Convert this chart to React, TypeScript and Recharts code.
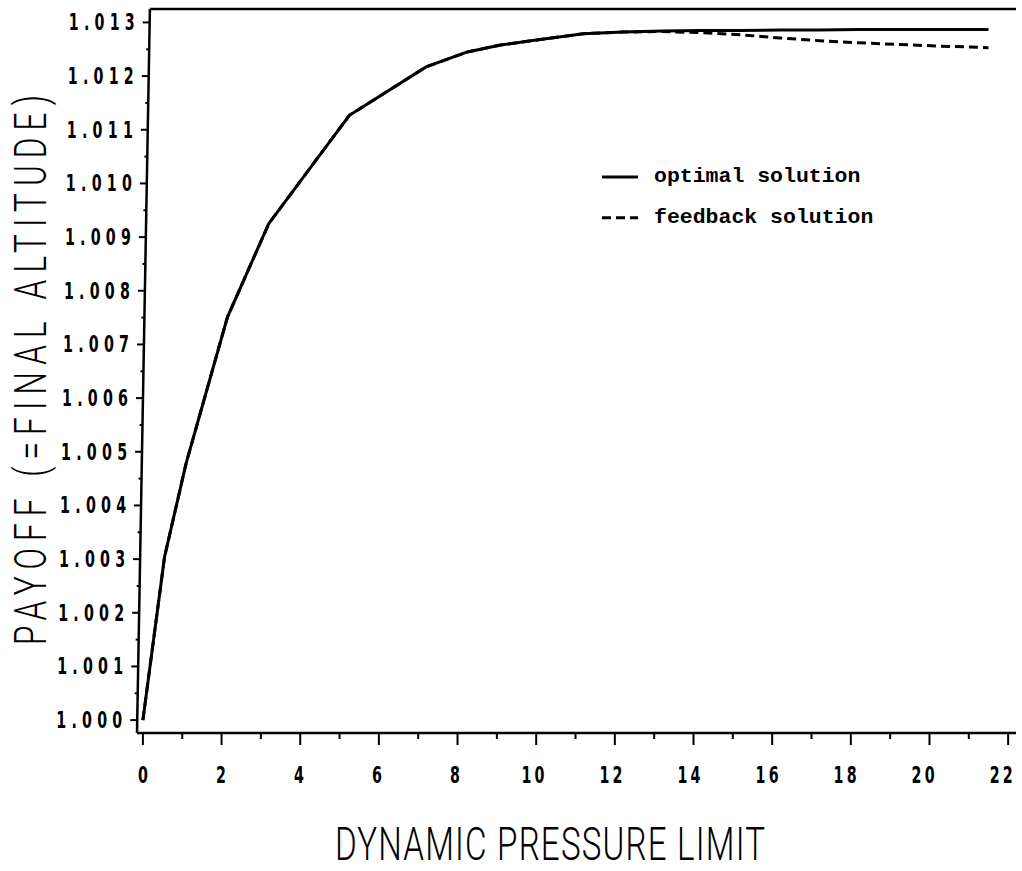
import { LineChart, Line, XAxis, YAxis, ReferenceLine, Legend } from "recharts";

// dynamic pressure limit (x) against payoff = final altitude (y)
const DP_LIMIT = [0, 0.55, 1.1, 2.15, 3.2, 5.25, 7.2, 8.25, 9.1, 10.1, 11.2, 12.2, 13.2, 14.2, 15.2, 16.2, 17.2, 18.2, 19.2, 20.2, 21.5];
const OPTIMAL = [1.0, 1.00304, 1.00479, 1.00751, 1.00925, 1.01127, 1.01217, 1.01245, 1.01258, 1.01268, 1.01279, 1.01282, 1.01284, 1.01285, 1.01285, 1.01286, 1.01286, 1.01287, 1.01287, 1.01287, 1.01287];
const FEEDBACK = [1.0, 1.00304, 1.00479, 1.00751, 1.00925, 1.01127, 1.01217, 1.01245, 1.01258, 1.01268, 1.01279, 1.01282, 1.01283, 1.01281, 1.01277, 1.01271, 1.01266, 1.01262, 1.01259, 1.01256, 1.01253];

const X_MAJOR = [0, 2, 4, 6, 8, 10, 12, 14, 16, 18, 20, 22];
const X_MINOR = [1, 3, 5, 7, 9, 11, 13, 15, 17, 19, 21];
const Y_MAJOR = [1.0, 1.001, 1.002, 1.003, 1.004, 1.005, 1.006, 1.007, 1.008, 1.009, 1.01, 1.011, 1.012, 1.013];
const Y_MINOR = [1.0005, 1.0015, 1.0025, 1.0035, 1.0045, 1.0055, 1.0065, 1.0075, 1.0085, 1.0095, 1.0105, 1.0115, 1.0125];

const X_DOMAIN: [number, number] = [-0.15, 22.2];
const Y_DOMAIN: [number, number] = [0.99976, 1.01325];
// x value where the leaning left frame edge meets the top edge
const LEFT_TOP_X = 0.178;

const W = 1022;
const H = 871;
const PLOT_TOP = 9;
const PLOT_BOTTOM = 733;
const LEAN = 13;

const data = DP_LIMIT.map((q, i) => ({ q, optimal: OPTIMAL[i], feedback: FEEDBACK[i] }));

const tickFont = "'DejaVu Sans', sans-serif";
const titleFont = "Roboto, 'DejaVu Sans', sans-serif";
const SQUEEZE = 0.62;

// narrow, widely spaced digits: squeeze the glyphs, then pad the spacing out
function Narrow({ x, y, width, children }: any) {
  return (
    <text
      transform={`translate(${x}, ${y}) scale(${SQUEEZE}, 1)`}
      textAnchor="middle"
      fontFamily={tickFont}
      fontWeight="bold"
      fontSize={23}
      textLength={width / SQUEEZE}
      lengthAdjust="spacing"
      fill="#000"
    >
      {children}
    </text>
  );
}

function YTick({ x, y, payload }: any) {
  const major = Y_MAJOR.includes(payload.value);
  const ax = x + ((PLOT_BOTTOM - y) / (PLOT_BOTTOM - PLOT_TOP)) * LEAN;
  const len = major ? 7 : 3;
  return (
    <g>
      <line x1={ax - len} x2={ax} y1={y} y2={y} stroke="#000" strokeWidth={2} />
      {major && (
        <Narrow x={ax - 15 - 33} y={y + 8} width={66}>
          {payload.value.toFixed(3)}
        </Narrow>
      )}
    </g>
  );
}

function XTick({ x, y, payload }: any) {
  const major = X_MAJOR.includes(payload.value);
  const label = String(payload.value);
  const shift = -((x - 143) / 865) * 7;
  return (
    <g>
      <line x1={x} x2={x} y1={y} y2={y + (major ? 12 : 6)} stroke="#000" strokeWidth={2} />
      {major && (
        <Narrow x={x + shift} y={y + 50} width={label.length === 1 ? 9.5 : 23}>
          {label}
        </Narrow>
      )}
    </g>
  );
}

function XTitle() {
  return (
    <text
      transform="translate(550, 860) scale(0.72, 1)"
      textAnchor="middle"
      fontFamily={titleFont}
      fontWeight={300}
      fontSize={46}
      textLength={430 / 0.72}
      lengthAdjust="spacing"
      fill="#000"
    >
      DYNAMIC PRESSURE LIMIT
    </text>
  );
}

function YTitle() {
  return (
    <text
      transform="translate(46, 370) rotate(-90) scale(0.72, 1)"
      textAnchor="middle"
      fontFamily={titleFont}
      fontWeight={300}
      fontSize={44}
      textLength={550 / 0.72}
      lengthAdjust="spacing"
      fill="#000"
    >
      PAYOFF (=FINAL ALTITUDE)
    </text>
  );
}

const SERIES = [
  { key: "optimal", name: "optimal solution", dash: undefined as string | undefined },
  { key: "feedback", name: "feedback solution", dash: "9 5" },
];

function LegendBox() {
  return (
    <svg width={300} height={80}>
      {SERIES.map((s, i) => {
        const base = 22 + i * 40.7;
        return (
          <g key={s.key}>
            <line x1={6} x2={42} y1={base - 5} y2={base - 5} stroke="#000" strokeWidth={3} strokeDasharray={s.dash} />
            <text
              x={58}
              y={base}
              fontFamily="'Liberation Mono', 'DejaVu Sans Mono', monospace"
              fontWeight="bold"
              fontSize={21}
              textLength={s.name.length * 12.9}
              lengthAdjust="spacingAndGlyphs"
              fill="#000"
            >
              {s.name}
            </text>
          </g>
        );
      })}
    </svg>
  );
}

export default function App() {
  return (
    <div style={{ position: "absolute", left: 0, top: 0, width: W, height: H, background: "#fff" }}>
      <LineChart width={W} height={H} data={data} margin={{ top: PLOT_TOP, right: 6, left: 0, bottom: 0 }}>
        <XAxis
          dataKey="q"
          type="number"
          domain={X_DOMAIN}
          ticks={[...X_MAJOR, ...X_MINOR]}
          interval={0}
          allowDataOverflow
          height={H - PLOT_BOTTOM}
          tickSize={0}
          tickMargin={0}
          tickLine={false}
          axisLine={{ stroke: "#000", strokeWidth: 2.5 }}
          tick={(p: any) => <XTick {...p} />}
          label={<XTitle />}
        />
        <YAxis
          type="number"
          domain={Y_DOMAIN}
          ticks={[...Y_MAJOR, ...Y_MINOR]}
          interval={0}
          allowDataOverflow
          width={137}
          tickSize={0}
          tickMargin={0}
          tickLine={false}
          axisLine={false}
          tick={(p: any) => <YTick {...p} />}
          label={<YTitle />}
        />
        <YAxis
          yAxisId="right"
          orientation="right"
          type="number"
          domain={Y_DOMAIN}
          width={0}
          tick={false}
          tickLine={false}
          axisLine={{ stroke: "#000", strokeWidth: 2.5 }}
        />
        <ReferenceLine
          segment={[{ x: X_DOMAIN[0], y: Y_DOMAIN[0] }, { x: LEFT_TOP_X, y: Y_DOMAIN[1] }]}
          stroke="#000"
          strokeWidth={2.5}
          ifOverflow="visible"
        />
        <ReferenceLine
          segment={[{ x: LEFT_TOP_X, y: Y_DOMAIN[1] }, { x: X_DOMAIN[1], y: Y_DOMAIN[1] }]}
          stroke="#000"
          strokeWidth={2.5}
          ifOverflow="visible"
        />
        <Legend
          layout="horizontal"
          verticalAlign="middle"
          content={() => <LegendBox />}
          wrapperStyle={{ left: 596, top: 160, width: 300, height: 80 }}
        />
        {SERIES.map((s) => (
          <Line
            key={s.key}
            type="linear"
            dataKey={s.key}
            name={s.name}
            stroke="#000"
            strokeWidth={3}
            strokeDasharray={s.dash}
            dot={false}
            activeDot={false}
            isAnimationActive={false}
          />
        ))}
      </LineChart>
    </div>
  );
}
